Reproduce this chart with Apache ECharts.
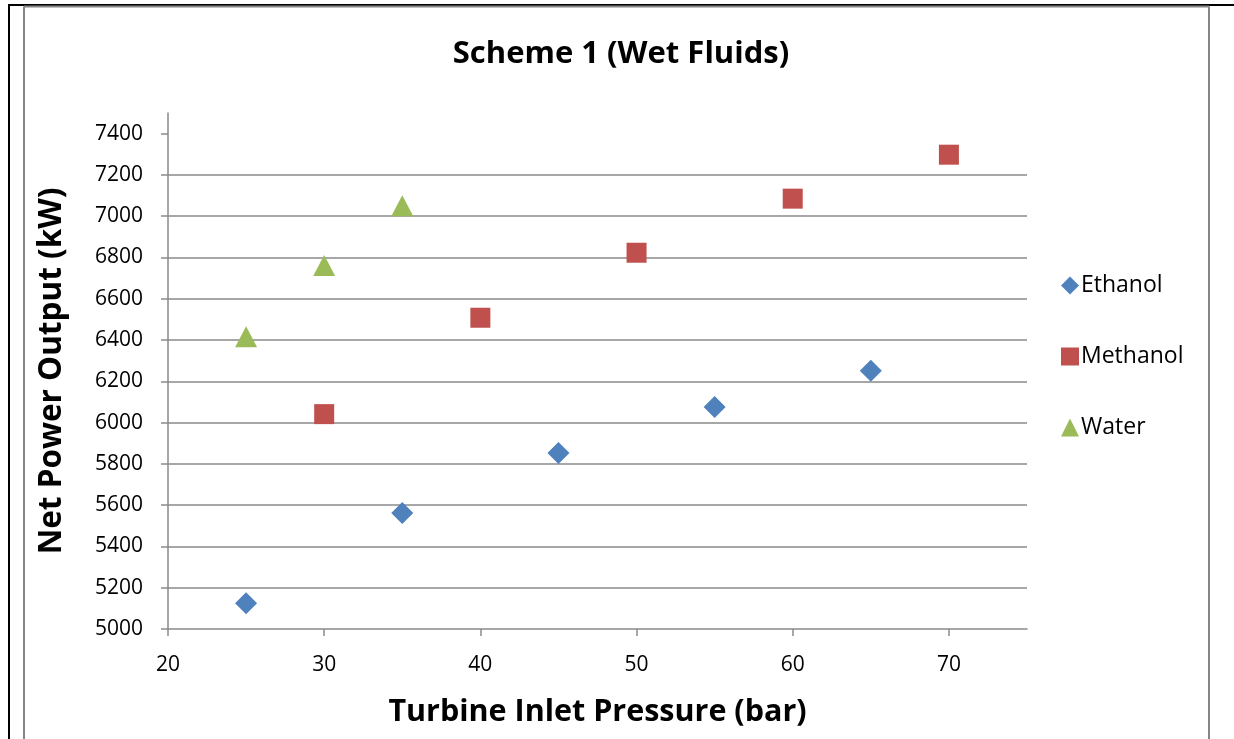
<!DOCTYPE html>
<html>
<head>
<meta charset="utf-8">
<script src="https://cdn.jsdelivr.net/npm/echarts@6/dist/echarts.min.js"></script>
<style>
  html, body { margin: 0; padding: 0; background: #ffffff; }
  #chart { width: 1234px; height: 739px; }
</style>
</head>
<body>
<div id="chart"></div>
<script>
// Net power output vs turbine inlet pressure for three working fluids
const ethanolPressure = [25, 35, 45, 55, 65];
const ethanolPower = [5125, 5562, 5853, 6076, 6251];

const methanolPressure = [30, 40, 50, 60, 70];
const methanolPower = [6041, 6508, 6823, 7085, 7298];

const waterPressure = [25, 30, 35];
const waterPower = [6416, 6761, 7051];

const xTicks = [20, 30, 40, 50, 60, 70];
const yTicks = [5000, 5200, 5400, 5600, 5800, 6000, 6200, 6400, 6600, 6800, 7000, 7200, 7400];

const FONT = '"Open Sans", "Noto Sans", sans-serif';
const GRID_GRAY = '#8a8a8a';

function pairs(xs, ys) {
  return xs.map((x, i) => [x, ys[i]]);
}

const chart = echarts.init(document.getElementById('chart'), null, { renderer: 'canvas' });

chart.setOption({
  animation: false,
  backgroundColor: '#ffffff',
  textStyle: { fontFamily: FONT },
  title: {
    text: 'Scheme 1 (Wet Fluids)',
    left: 616,
    textAlign: 'center',
    top: 34,
    textStyle: { fontFamily: FONT, fontSize: 31, fontWeight: 'bold', color: '#000000' }
  },
  legend: {
    orient: 'vertical',
    left: 1056,
    top: 269,
    itemWidth: 18,
    itemHeight: 18,
    itemGap: 48,
    textStyle: { fontFamily: FONT, fontSize: 23, color: '#000000', padding: [0, 0, 0, -3] },
    data: ['Ethanol', 'Methanol', 'Water']
  },
  grid: { left: 168, right: 207, top: 113, bottom: 110, containLabel: false },
  xAxis: {
    type: 'value',
    min: 20,
    max: 75,
    interval: 10,
    name: 'Turbine Inlet Pressure (bar)',
    nameLocation: 'middle',
    nameGap: 68,
    nameTextStyle: { fontFamily: FONT, fontSize: 30.5, fontWeight: 'bold', color: '#000000' },
    axisLine: { show: true, onZero: false, lineStyle: { color: GRID_GRAY, width: 1.5 } },
    axisTick: { show: true, length: 7, customValues: xTicks, lineStyle: { color: GRID_GRAY, width: 1.5 } },
    axisLabel: { customValues: xTicks, margin: 26, fontFamily: FONT, fontSize: 21, color: '#000000', formatter: v => String(v) },
    splitLine: { show: false }
  },
  yAxis: {
    type: 'value',
    min: 5000,
    max: 7500,
    interval: 200,
    name: 'Net Power Output (kW)',
    nameLocation: 'middle',
    nameGap: 100,
    nameTextStyle: { fontFamily: FONT, fontSize: 31.5, fontWeight: 'bold', color: '#000000' },
    axisLine: { show: true, onZero: false, lineStyle: { color: GRID_GRAY, width: 1.5 } },
    axisTick: { show: true, length: 7, customValues: yTicks, lineStyle: { color: GRID_GRAY, width: 1.5 } },
    axisLabel: { customValues: yTicks, margin: 25, fontFamily: FONT, fontSize: 21, color: '#000000', formatter: v => String(v) },
    splitLine: { show: true, showMinLine: false, showMaxLine: false, lineStyle: { color: GRID_GRAY, width: 1.5 } }
  },
  series: [
    {
      name: 'Ethanol',
      type: 'scatter',
      symbol: 'diamond',
      symbolSize: [22, 22],
      itemStyle: { color: '#4F81BD', opacity: 1 },
      data: pairs(ethanolPressure, ethanolPower)
    },
    {
      name: 'Methanol',
      type: 'scatter',
      symbol: 'rect',
      symbolSize: [20, 20],
      itemStyle: { color: '#C0504D', opacity: 1 },
      data: pairs(methanolPressure, methanolPower)
    },
    {
      name: 'Water',
      type: 'scatter',
      symbol: 'triangle',
      symbolSize: [22, 21],
      itemStyle: { color: '#9BBB59', opacity: 1 },
      data: pairs(waterPressure, waterPower)
    }
  ],
  graphic: [
    // outer black frame edges
    { type: 'line', shape: { x1: 9, y1: 5, x2: 9, y2: 739 }, style: { stroke: '#000000', lineWidth: 2 }, silent: true },
    { type: 'line', shape: { x1: 8, y1: 5, x2: 1234, y2: 5 }, style: { stroke: '#000000', lineWidth: 2 }, silent: true },
    // chart area border
    { type: 'line', shape: { x1: 24, y1: 6.5, x2: 24, y2: 739 }, style: { stroke: '#868686', lineWidth: 2 }, silent: true },
    { type: 'line', shape: { x1: 24, y1: 6.5, x2: 1209, y2: 6.5 }, style: { stroke: '#868686', lineWidth: 2 }, silent: true },
    { type: 'line', shape: { x1: 1209, y1: 6.5, x2: 1209, y2: 739 }, style: { stroke: '#868686', lineWidth: 2 }, silent: true }
  ]
});
</script>
</body>
</html>
